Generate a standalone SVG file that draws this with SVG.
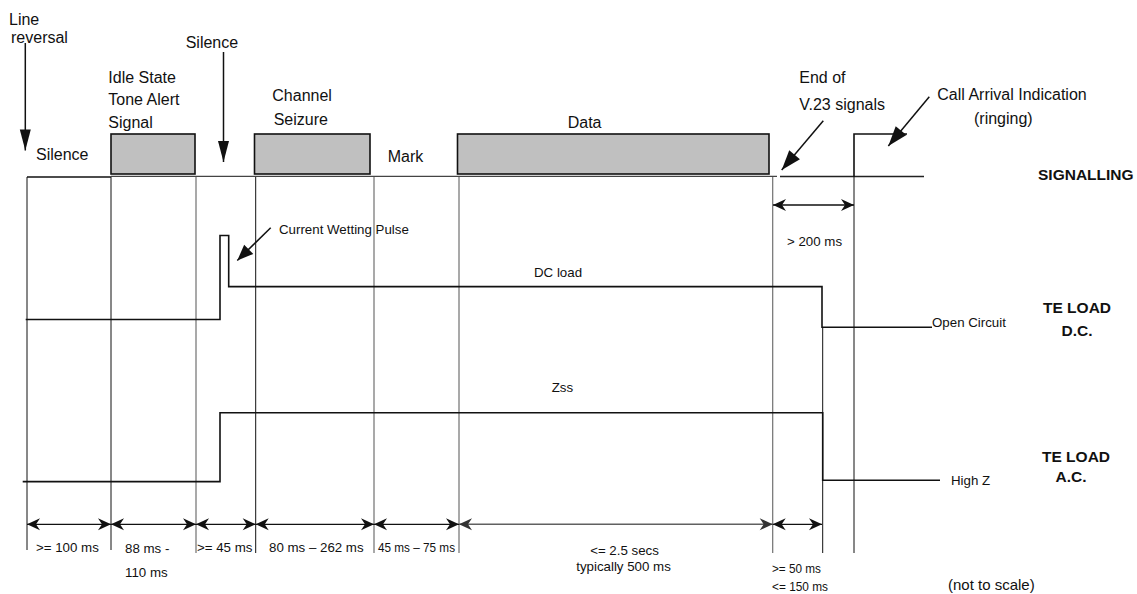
<svg xmlns="http://www.w3.org/2000/svg" width="1137" height="594" viewBox="0 0 1137 594">
<style>
text{font-family:"Liberation Sans",Arial,sans-serif;fill:#111}
.l{font-size:16px}
.s{font-size:13.3px}
.b{font-size:15.5px;font-weight:bold}
.grid{stroke:#111;stroke-width:1;fill:none}
.gridg{stroke:#707070;stroke-width:1.2;fill:none}
.sig{stroke:#111;stroke-width:1.6;fill:none}
.box{fill:#c0c0c0;stroke:#111;stroke-width:1.6}
.dim{stroke:#111;stroke-width:1.3;fill:none;marker-start:url(#dk);marker-end:url(#dk)}
.dimg{stroke:#606060;stroke-width:1.5;fill:none;marker-start:url(#dg);marker-end:url(#dg)}
.ptr{stroke:#111;stroke-width:1.5;fill:none}
</style>
<defs>
<marker id="dk" viewBox="-14 -7 15 14" refX="0" refY="0" markerWidth="15" markerHeight="14" markerUnits="userSpaceOnUse" orient="auto-start-reverse"><path d="M0,0 L-13,-6 L-9,0 L-13,6 Z" fill="#111"/></marker>
<marker id="dg" viewBox="-14 -7 15 14" refX="0" refY="0" markerWidth="15" markerHeight="14" markerUnits="userSpaceOnUse" orient="auto-start-reverse"><path d="M0,0 L-13,-6 L-9,0 L-13,6 Z" fill="#333"/></marker>
<marker id="av" viewBox="-22 -6 23 12" refX="0" refY="0" markerWidth="23" markerHeight="12" markerUnits="userSpaceOnUse" orient="auto"><path d="M0,0 L-21,-5.5 L-21,5.5 Z" fill="#111"/></marker>
<marker id="ad" viewBox="-21 -8 22 16" refX="0" refY="0" markerWidth="22" markerHeight="16" markerUnits="userSpaceOnUse" orient="auto"><path d="M0,0 L-20,-7 L-20,7 Z" fill="#111"/></marker>
<marker id="as" viewBox="-17 -7 18 14" refX="0" refY="0" markerWidth="18" markerHeight="14" markerUnits="userSpaceOnUse" orient="auto"><path d="M0,0 L-16,-6.5 L-16,6.5 Z" fill="#111"/></marker>
</defs>
<rect width="1137" height="594" fill="#fff"/>

<g id="grid">
<line class="grid" x1="27" y1="177" x2="27" y2="550"/>
<line class="grid" x1="111" y1="177" x2="111" y2="550"/>
<line class="gridg" x1="196" y1="177" x2="196" y2="553"/>
<line class="grid" x1="255.7" y1="177" x2="255.7" y2="553"/>
<line class="gridg" x1="374" y1="177" x2="374" y2="553"/>
<line class="gridg" x1="459" y1="177" x2="459" y2="553"/>
<line class="gridg" x1="772.7" y1="177" x2="772.7" y2="553"/>
<line class="grid" x1="822.7" y1="327" x2="822.7" y2="553"/>
<line class="grid" x1="854" y1="177" x2="854" y2="553"/>
</g>

<g id="signalling">
<line x1="27" y1="177" x2="111" y2="177" stroke="#111" stroke-width="1.3"/>
<line x1="111" y1="176.3" x2="777" y2="176.3" stroke="#444" stroke-width="1.3"/>
<line x1="780" y1="176.5" x2="924" y2="176.5" stroke="#222" stroke-width="1.3"/>
<path class="sig" d="M854,177 V134 H907"/>
</g>

<g id="box-idle"><rect class="box" x="111" y="134" width="84" height="40"/></g>
<g id="box-seizure"><rect class="box" x="254.5" y="134" width="115.5" height="40"/></g>
<g id="box-data"><rect class="box" x="457.5" y="134" width="311.5" height="40"/></g>

<g id="dc-load">
<path class="sig" d="M25.7,319.5 H220 V235.5 H228.7 V286.6 H822 V327.3 H932"/>
</g>
<g id="ac-load">
<path class="sig" d="M22.7,481.6 H220 V412.8 H822.7 V480.3 H940"/>
</g>

<g id="connectors">
<line class="ptr" x1="25.3" y1="43" x2="25.3" y2="150.5" marker-end="url(#av)"/>
<line class="ptr" x1="223.5" y1="52" x2="223.5" y2="162" marker-end="url(#av)"/>
<line class="ptr" x1="823.3" y1="120.7" x2="781.7" y2="170" marker-end="url(#ad)"/>
<line class="ptr" x1="929.3" y1="96.7" x2="888.3" y2="146" marker-end="url(#ad)"/>
<line class="ptr" x1="270.7" y1="227.7" x2="237.3" y2="260.5" marker-end="url(#as)"/>
<line class="dim" x1="773" y1="205" x2="854" y2="205"/>
<line class="dim" x1="27" y1="524.3" x2="111" y2="524.3"/>
<line class="dim" x1="111" y1="524.3" x2="196" y2="524.3"/>
<line class="dim" x1="196" y1="524.3" x2="255.7" y2="524.3"/>
<line class="dim" x1="255.7" y1="524.3" x2="374" y2="524.3"/>
<line class="dim" x1="374" y1="524.3" x2="459" y2="524.3"/>
<line class="dimg" x1="459" y1="524.3" x2="772.7" y2="524.3"/>
<line class="dim" x1="772.7" y1="524.3" x2="822" y2="524.3"/>
</g>

<g id="labels-top">
<text class="l" x="9" y="25">Line</text>
<text class="l" x="11" y="43">reversal</text>
<text class="l" x="185.7" y="48">Silence</text>
<text class="l" x="36" y="159.5">Silence</text>
<text class="l" x="108.3" y="83.3">Idle State</text>
<text class="l" x="108.3" y="105">Tone Alert</text>
<text class="l" x="108.3" y="127.5">Signal</text>
<text class="l" x="272.3" y="100.5">Channel</text>
<text class="l" x="273.7" y="125">Seizure</text>
<text class="l" x="387.7" y="162.3">Mark</text>
<text class="l" x="567.7" y="128.3">Data</text>
<text class="l" x="799.3" y="83.3">End of</text>
<text class="l" x="799.3" y="110">V.23 signals</text>
<text class="l" x="937.3" y="100">Call Arrival Indication</text>
<text class="l" x="974" y="124">(ringing)</text>
<text class="b" x="1038" y="180">SIGNALLING</text>
</g>

<g id="labels-mid">
<text class="s" x="279" y="234.3">Current Wetting Pulse</text>
<text class="s" x="534" y="276.7">DC load</text>
<text class="s" x="551.7" y="391.7">Zss</text>
<text class="s" x="787" y="246">&gt; 200 ms</text>
<text class="s" x="932" y="326.7">Open Circuit</text>
<text class="s" x="951" y="485">High Z</text>
<text class="b" x="1043" y="313">TE LOAD</text>
<text class="b" x="1077" y="336" text-anchor="middle">D.C.</text>
<text class="b" x="1042" y="461.7">TE LOAD</text>
<text class="b" x="1071" y="481.7" text-anchor="middle">A.C.</text>
</g>

<g id="labels-bottom">
<text class="s" x="36" y="551.7">&gt;= 100 ms</text>
<text class="s" x="125" y="553">88 ms -</text>
<text class="s" x="125" y="577">110 ms</text>
<text class="s" x="197" y="552">&gt;= 45 ms</text>
<text class="s" x="269" y="552">80 ms – 262 ms</text>
<text class="s" x="378" y="552" textLength="77" lengthAdjust="spacingAndGlyphs">45 ms – 75 ms</text>
<text class="s" x="624.5" y="555" text-anchor="middle">&lt;= 2.5 secs</text>
<text class="s" x="623.5" y="571" text-anchor="middle">typically 500 ms</text>
<text class="s" x="772" y="573" textLength="49" lengthAdjust="spacingAndGlyphs">&gt;= 50 ms</text>
<text class="s" x="772" y="591" textLength="56" lengthAdjust="spacingAndGlyphs">&lt;= 150 ms</text>
<text x="948" y="590" style="font-size:15px">(not to scale)</text>
</g>
</svg>
